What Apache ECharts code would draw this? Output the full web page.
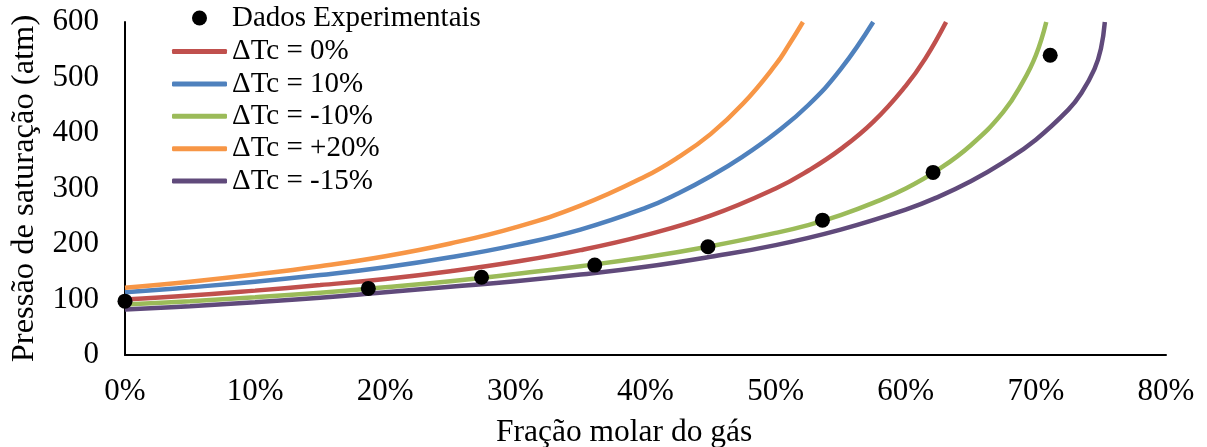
<!DOCTYPE html>
<html>
<head>
<meta charset="utf-8">
<script src="https://cdn.jsdelivr.net/npm/echarts@6/dist/echarts.min.js"></script>
<style>
html,body{margin:0;padding:0;background:#fff;}
#chart{width:1207px;height:447px;}
</style>
</head>
<body>
<div id="chart"></div>
<script>
// Experimental data (x in % molar fraction, y in atm)
const expX = [0, 18.7, 27.4, 36.1, 44.8, 53.6, 62.1, 71.1];
const expY = [97, 120, 140, 162, 195, 243, 329, 540];

// ΔTc = 0%
const redX = [0, 5, 10, 15, 20, 25, 30, 35, 40, 45, 50, 52.5, 55, 57.5, 60, 61.5, 63.1];
const redY = [100, 107, 116, 126, 137, 151, 168, 189, 216, 251, 300, 332, 371, 420, 485, 534, 600];

// ΔTc = 10%
const blueX = [0, 5, 10, 15, 20, 25, 30, 35, 40, 42.5, 45, 47.5, 50, 52.5, 55, 57.5];
const blueY = [113, 122, 132, 144, 158, 176, 198, 226, 265, 291, 322, 358, 400, 450, 515, 600];

// ΔTc = -10%
const greenX = [0, 5, 10, 15, 20, 25, 30, 35, 40, 45, 50, 52.5, 55, 57.5, 60, 62.5, 65, 67.5, 69, 70, 70.8];
const greenY = [91, 97, 104, 112, 122, 133, 146, 160, 176, 196, 220, 234, 252, 274, 300, 334, 378, 438, 492, 540, 600];

// ΔTc = +20%
const orangeX = [0, 5, 10, 15, 20, 25, 30, 35, 40, 42.5, 45, 47.5, 50, 51, 52.1];
const orangeY = [121, 132, 145, 160, 178, 201, 230, 269, 322, 356, 398, 453, 523, 558, 600];

// ΔTc = -15%
const purpleX = [0, 5, 10, 15, 20, 25, 30, 35, 40, 45, 50, 55, 60, 62.5, 65, 67.5, 70, 72.5, 73.5, 74.5, 75, 75.3];
const purpleY = [82, 88, 95, 103, 113, 123, 133, 145, 159, 177, 198, 226, 262, 285, 313, 347, 388, 442, 472, 515, 552, 600];

const seriesNames = ['Dados Experimentais', 'ΔTc = 0%', 'ΔTc = 10%', 'ΔTc = -10%', 'ΔTc = +20%', 'ΔTc = -15%'];
const colors = ['#000000', '#C0504D', '#4F81BD', '#9BBB59', '#F79646', '#604A7B'];

const zip = (xs, ys) => xs.map((x, i) => [x, ys[i]]);
const FONT = 'Liberation Serif';

function lineSeries(name, color, xs, ys) {
  return {
    name: name, type: 'line', data: zip(xs, ys),
    smooth: 0.45, showSymbol: false, symbol: 'none',
    lineStyle: { color: color, width: 4.5 }, itemStyle: { color: color }, z: 2
  };
}

const legendText = { fontFamily: FONT, fontSize: 29, color: '#000', lineHeight: 32 };

const chart = echarts.init(document.getElementById('chart'), null, { renderer: 'canvas' });
chart.setOption({
  animation: false,
  backgroundColor: '#ffffff',
  grid: { left: 123, right: 41, top: 22, bottom: 92, containLabel: false },
  title: {
    text: 'Fração molar do gás', left: 496, top: 417, padding: 0,
    textStyle: { fontFamily: FONT, fontSize: 31.5, fontWeight: 'normal', color: '#000' }
  },
  legend: [
    {
      orient: 'vertical', left: 192, top: 2, padding: 0,
      itemWidth: 55, itemHeight: 15, itemGap: 0,
      textStyle: legendText,
      data: [{ name: seriesNames[0], icon: 'circle' }]
    },
    {
      orient: 'vertical', left: 172, top: 35.5, padding: 0,
      itemWidth: 55, itemHeight: 5, itemGap: 0.4,
      textStyle: legendText,
      data: seriesNames.slice(1).map(n => ({ name: n, icon: 'roundRect' }))
    }
  ],
  xAxis: {
    type: 'value', min: 0, max: 80, interval: 10,
    axisLine: { show: true, lineStyle: { color: '#000', width: 2 } },
    axisTick: { show: false }, splitLine: { show: false },
    axisLabel: { formatter: '{value}%', fontFamily: FONT, fontSize: 31, color: '#000', margin: 21 }
  },
  yAxis: {
    type: 'value', min: 0, max: 600, interval: 100,
    name: 'Pressão de saturação (atm)', nameLocation: 'middle', nameGap: 84,
    nameTextStyle: { fontFamily: FONT, fontSize: 32.5, color: '#000' },
    axisLine: { show: true, lineStyle: { color: '#000', width: 2 } },
    axisTick: { show: false }, splitLine: { show: false },
    axisLabel: { fontFamily: FONT, fontSize: 31, color: '#000', margin: 26 }
  },
  series: [
    {
      name: seriesNames[0], type: 'scatter', data: zip(expX, expY),
      symbol: 'circle', symbolSize: 15, itemStyle: { color: '#000', opacity: 1 }, z: 5
    },
    lineSeries(seriesNames[1], colors[1], redX, redY),
    lineSeries(seriesNames[2], colors[2], blueX, blueY),
    lineSeries(seriesNames[3], colors[3], greenX, greenY),
    lineSeries(seriesNames[4], colors[4], orangeX, orangeY),
    lineSeries(seriesNames[5], colors[5], purpleX, purpleY)
  ]
});
</script>
</body>
</html>
